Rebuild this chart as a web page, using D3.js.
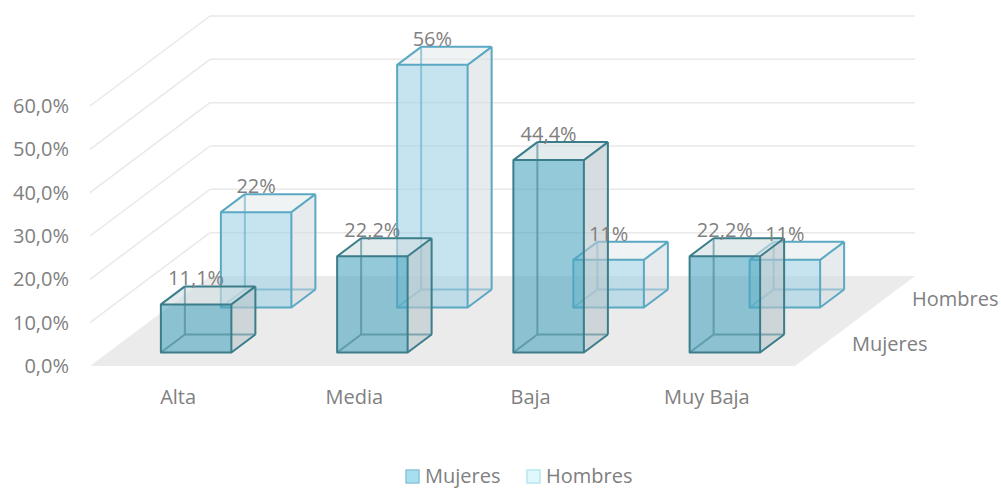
<!DOCTYPE html>
<html>
<head>
<meta charset="utf-8">
<script src="https://cdn.jsdelivr.net/npm/d3@7"></script>
<style>
  html, body { margin: 0; padding: 0; background: #fff; }
  svg { display: block; }
  text { font-family: "Open Sans", sans-serif; font-size: 20px; fill: #808080; }
</style>
</head>
<body>
<svg id="chart" width="1001" height="488"></svg>
<script>
// Nivel por categoría y sexo
const categories = ["Alta", "Media", "Baja", "Muy Baja"];
const series = ["Mujeres", "Hombres"];
const mujeres = [0.111, 0.222, 0.444, 0.222];
const hombres = [0.22, 0.56, 0.11, 0.11];
const yTicks = [0, 0.1, 0.2, 0.3, 0.4, 0.5, 0.6];

const values = { Mujeres: mujeres, Hombres: hombres };
const labelFormat = { Mujeres: ".1%", Hombres: ".0%" };

const es = d3.formatLocale({ decimal: ",", thousands: ".", grouping: [3], currency: ["", " €"] });

const svg = d3.select("#chart");

// Oblique projection: x along the floor, h up, d into depth (in screen-y pixels)
const originX = 90, originY = 366;
const depthSlope = 4 / 3;
const floorWidth = 705, floorDepth = 90;

const x = d3.scaleBand().domain(categories).range([0, floorWidth]);
const z = d3.scaleBand().domain(series).range([0, floorDepth]);
const h = d3.scaleLinear().domain([0, 0.6]).range([0, 260]);

const P = (px, ph, pd) => [originX + px + pd * depthSlope, originY - ph - pd];
const poly = pts => "M" + pts.map(p => p.join(",")).join("L") + "Z";
const seg = (a, b) => "M" + a.join(",") + "L" + b.join(",");

// Floor
svg.append("path")
  .attr("d", poly([P(0, 0, 0), P(floorWidth, 0, 0), P(floorWidth, 0, floorDepth), P(0, 0, floorDepth)]))
  .attr("fill", "#ebebeb");

// Gridlines on the back and side walls
const grid = svg.append("g").attr("fill", "none").attr("stroke", "#e9e9e9").attr("stroke-width", 1.5);
yTicks.filter(t => t > 0).forEach(t => {
  grid.append("path").attr("d", seg(P(0, h(t), 0), P(0, h(t), floorDepth)));
  grid.append("path").attr("d", seg(P(0, h(t), floorDepth), P(floorWidth, h(t), floorDepth)));
});

const styles = {
  Mujeres: { front: "#4ba5be", side: "#b9c6cb", top: "#d2dee1", stroke: "#3b7d8a" },
  Hombres: { front: "#9ed2e4", side: "#d7dee1", top: "#e4ebed", stroke: "#5aa8c2" }
};

const barFrac = 0.4;
const bars = svg.append("g");

// Back row first so the front row overlaps it
["Hombres", "Mujeres"].forEach(s => {
  const st = styles[s];
  categories.forEach((c, i) => {
    const bw = x.bandwidth() * barFrac;
    const x0 = x(c) + (x.bandwidth() - bw) / 2, x1 = x0 + bw;
    const bd = z.bandwidth() * barFrac;
    const d0 = z(s) + (z.bandwidth() - bd) / 2, d1 = d0 + bd;
    const top = h(values[s][i]);

    const g = bars.append("g");
    const fo = 0.6;
    // faces
    g.append("path").attr("d", poly([P(x1, 0, d0), P(x1, 0, d1), P(x1, top, d1), P(x1, top, d0)]))
      .attr("fill", st.side).attr("fill-opacity", fo);
    g.append("path").attr("d", poly([P(x0, top, d0), P(x1, top, d0), P(x1, top, d1), P(x0, top, d1)]))
      .attr("fill", st.top).attr("fill-opacity", fo);
    g.append("path").attr("d", poly([P(x0, 0, d0), P(x1, 0, d0), P(x1, top, d0), P(x0, top, d0)]))
      .attr("fill", st.front).attr("fill-opacity", fo);

    // edges seen through the faces
    const hidden = [
      seg(P(x0, 0, d1), P(x0, top, d1)),
      seg(P(x0, 0, d1), P(x1, 0, d1)),
      seg(P(x0, 0, d0), P(x0, 0, d1))
    ];
    g.append("path").attr("d", hidden.join(""))
      .attr("fill", "none").attr("stroke", st.stroke).attr("stroke-width", 2).attr("stroke-opacity", 0.55);

    // outer edges
    const visible = [
      poly([P(x0, 0, d0), P(x1, 0, d0), P(x1, top, d0), P(x0, top, d0)]),
      seg(P(x0, top, d0), P(x0, top, d1)),
      seg(P(x0, top, d1), P(x1, top, d1)),
      seg(P(x1, top, d0), P(x1, top, d1)),
      seg(P(x1, top, d1), P(x1, 0, d1)),
      seg(P(x1, 0, d0), P(x1, 0, d1))
    ];
    g.append("path").attr("d", visible.join(""))
      .attr("fill", "none").attr("stroke", st.stroke).attr("stroke-width", 2).attr("stroke-linejoin", "round");
  });
});

// Value labels
const labels = svg.append("g");
series.forEach(s => {
  categories.forEach((c, i) => {
    const bd = z.bandwidth() * barFrac;
    const d0 = z(s) + (z.bandwidth() - bd) / 2;
    const p = P(x(c) + x.bandwidth() / 2, h(values[s][i]), d0);
    labels.append("text")
      .attr("x", p[0]).attr("y", p[1] - 26).attr("dy", "0.35em")
      .attr("text-anchor", "middle")
      .text(es.format(labelFormat[s])(values[s][i]));
  });
});

// Value axis on the front-left edge
const yFront = d3.scaleLinear().domain([0, 0.6]).range([originY, originY - 260]);
const yAxis = svg.append("g").attr("transform", `translate(${originX},0)`)
  .call(d3.axisLeft(yFront).tickValues(yTicks).tickSize(0).tickPadding(21).tickFormat(es.format(".1%")));
yAxis.select(".domain").remove();
yAxis.selectAll("text").attr("font-family", null).attr("font-size", null).attr("fill", null);

// Category axis along the front edge of the floor
const xAxis = svg.append("g").attr("transform", `translate(${originX},${originY})`)
  .call(d3.axisBottom(x).tickSize(0).tickPadding(24));
xAxis.select(".domain").remove();
xAxis.selectAll("text").attr("font-family", null).attr("font-size", null).attr("fill", null);

// Series labels along the right edge of the floor
series.forEach(s => {
  const p = P(floorWidth, 0, z(s) + z.bandwidth() / 2);
  svg.append("text").attr("x", p[0] + 27).attr("y", p[1]).attr("dy", "0.35em").text(s);
});

// Legend
const legendItems = [
  { name: "Mujeres", fill: "#a5dff0", stroke: "#8cc6d6", x: 405 },
  { name: "Hombres", fill: "#dff8fb", stroke: "#b5e8f0", x: 526 }
];
const legend = svg.append("g");
legendItems.forEach(it => {
  legend.append("rect").attr("x", it.x + 1).attr("y", 470).attr("width", 13).attr("height", 13)
    .attr("fill", it.fill).attr("stroke", it.stroke).attr("stroke-width", 1.5);
  legend.append("text").attr("x", it.x + 20).attr("y", 483).text(it.name);
});
</script>
</body>
</html>
